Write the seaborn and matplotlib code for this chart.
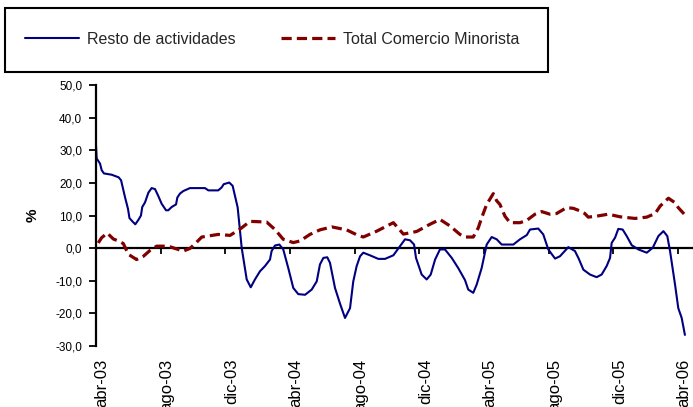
import matplotlib
matplotlib.use("Agg")
import matplotlib.pyplot as plt
import seaborn as sns
import pandas as pd
from matplotlib.patches import Rectangle
from matplotlib.transforms import ScaledTranslation

# Months elapsed since April 2003 and year-on-year change (%)
resto_mes = [0.00, 0.04, 0.25, 0.35, 0.49, 0.97, 1.40, 1.55, 1.80, 1.98, 2.07, 2.27, 2.43,
             2.64, 2.78, 2.86, 3.03, 3.24, 3.44, 3.65, 3.85, 4.06, 4.33, 4.47, 4.68, 4.95,
             5.03, 5.19, 5.40, 5.81, 6.74, 6.95, 7.56, 7.77, 7.90, 8.24, 8.45, 8.62, 8.76,
             9.01, 9.32, 9.57, 9.83, 10.14, 10.45, 10.76, 10.86, 11.07, 11.34, 11.58, 11.89,
             12.20, 12.51, 12.93, 13.34, 13.65, 13.85, 14.06, 14.30, 14.47, 14.78, 15.09,
             15.40, 15.71, 15.91, 16.12, 16.33, 16.53, 16.94, 17.46, 17.87, 18.39, 18.80,
             19.11, 19.42, 19.67, 19.79, 20.00, 20.14, 20.45, 20.70, 20.97, 21.27, 21.58,
             22.00, 22.40, 22.82, 23.02, 23.33, 23.54, 23.85, 24.16, 24.47, 24.78, 25.09,
             25.81, 26.22, 26.64, 26.84, 27.35, 27.66, 27.97, 28.39, 28.69, 29.21, 29.62,
             29.85, 30.14, 30.55, 30.96, 31.27, 31.58, 31.79, 31.89, 32.10, 32.30, 32.57,
             32.82, 33.13, 33.54, 34.06, 34.43, 34.78, 35.09, 35.33, 35.50, 35.81, 36.01,
             36.22, 36.42]
resto_valor = [31.5, 27.5, 25.9, 23.9, 22.9, 22.5, 21.7, 20.8, 15.5, 12.0, 9.2, 8.1, 7.3,
               8.8, 10.0, 12.6, 14.0, 17.0, 18.4, 18.1, 16.0, 13.6, 11.6, 11.6, 12.6, 13.4,
               15.5, 16.7, 17.5, 18.4, 18.4, 17.7, 17.7, 18.6, 19.6, 20.1, 19.1, 15.5, 12.5,
               0.1, -9.6, -12.0, -9.6, -7.1, -5.5, -3.5, -0.9, 0.8, 1.1, -0.4, -6.1,
               -12.2, -14.1, -14.3, -12.7, -10.2, -5.0, -3.0, -2.8, -4.5, -12.2, -17.0,
               -21.4, -18.4, -10.2, -5.5, -2.5, -1.4, -2.2, -3.3, -3.3, -2.2, 0.6,
               2.7, 2.4, 1.1, -3.0, -6.1, -8.1, -9.6, -8.1, -3.5, -0.4, -0.4,
               -3.0, -6.1, -9.8, -12.7, -13.7, -11.2, -6.1, 1.1, 3.4, 2.7, 1.1,
               1.1, 2.7, 4.0, 5.7, 6.0, 4.2, -0.4, -3.2, -2.5, 0.3, -0.9,
               -3.2, -6.6, -8.1, -8.9, -8.1, -5.5, -3.0, 1.6, 3.2, 5.9, 5.7,
               3.7, 0.9, -0.4, -1.4, 0.1, 3.7, 5.2, 3.7, -0.9, -11.2, -18.4,
               -21.4, -26.6]

comercio_mes = [0.14, 0.35, 0.70, 1.07, 1.38, 1.69, 2.00, 2.51, 2.93, 3.34, 3.75, 4.47,
                4.89, 5.40, 5.81, 6.12, 6.54, 7.56, 8.29, 8.70, 8.90, 9.52, 10.55, 11.07,
                11.58, 12.20, 12.62, 13.23, 13.85, 14.58, 15.50, 16.12, 16.53, 17.36,
                18.39, 19.01, 19.83, 20.65, 21.27, 21.89, 22.51, 22.82, 23.33, 23.64,
                23.85, 24.16, 24.57, 24.78, 24.98, 25.29, 25.60, 26.22, 26.64, 27.15,
                27.56, 28.07, 28.48, 29.10, 29.52, 29.93, 30.23, 30.44, 30.96, 31.68,
                32.41, 33.33, 34.06, 34.58, 34.89, 35.40, 35.81, 36.01, 36.42]
comercio_valor = [1.6, 3.2, 4.6, 2.8, 2.2, 1.4, -1.9, -3.5, -2.5, -0.7, 0.6, 0.6,
                  -0.1, -0.9, -0.1, 1.3, 3.4, 4.2, 3.9, 5.2, 5.8, 8.2, 8.0, 5.7,
                  2.7, 1.7, 2.2, 4.2, 5.6, 6.5, 5.6, 4.1, 3.4, 5.2,
                  7.8, 4.3, 5.1, 7.3, 8.8, 6.8, 4.2, 3.4, 3.4, 6.2,
                  9.3, 13.4, 16.7, 14.5, 13.4, 9.8, 7.8, 7.8, 8.5, 10.4,
                  11.2, 10.4, 10.6, 12.4, 12.2, 11.4, 10.6, 9.5, 9.8, 10.4,
                  9.6, 9.1, 9.5, 10.6, 12.9, 15.3, 13.9, 12.4, 10.2]

tick_mes = [0, 4, 8, 12, 16, 20, 24, 28, 32, 36]
tick_etiquetas = ["abr-03", "ago-03", "dic-03", "abr-04", "ago-04",
                  "dic-04", "abr-05", "ago-05", "dic-05", "abr-06"]
y_ticks = [-30, -20, -10, 0, 10, 20, 30, 40, 50]

resto = pd.DataFrame({"mes": resto_mes, "valor": resto_valor})
comercio = pd.DataFrame({"mes": comercio_mes, "valor": comercio_valor})

sns.set_theme(style="white")
plt.rcParams["font.family"] = ["Liberation Sans", "DejaVu Sans"]

W, H = 693, 407
fig = plt.figure(figsize=(W / 100, H / 100), dpi=100)
ax = fig.add_axes([96 / W, 1 - 346 / H, 1 - 96 / W, (346 - 85) / H])

azul = "#000080"
granate = "#800000"

sns.lineplot(data=resto, x="mes", y="valor", ax=ax, color=azul, linewidth=1.5,
             label="Resto de actividades", legend=False)
sns.lineplot(data=comercio, x="mes", y="valor", ax=ax, color=granate, linewidth=2.3,
             label="Total Comercio Minorista", legend=False)
ax.lines[-1].set_dashes((3.2, 1.6))

ax.set_xlim(0, 36.92)
ax.set_ylim(-30, 50)

# Y axis: values with comma decimal separator
ax.set_yticks(y_ticks)
ax.set_yticklabels([f"{v:.1f}".replace(".", ",") for v in y_ticks])
ax.tick_params(axis="y", direction="out", length=5, width=1.3, color="black",
               labelsize=8.5, pad=5, labelcolor="black", left=True)
ax.set_ylabel("%", fontsize=11, fontweight="bold", labelpad=11, color="black")

# Month labels sit under the plot area
ax.set_xticks(tick_mes)
ax.set_xticklabels(tick_etiquetas, rotation=90, va="top", ha="center")
ax.tick_params(axis="x", length=0, labelsize=12, pad=9, labelcolor="black")
shift = ScaledTranslation(6 / 100, 0, fig.dpi_scale_trans)
for lbl in ax.get_xticklabels():
    lbl.set_transform(lbl.get_transform() + shift)
ax.set_xlabel("")

for side in ("top", "right", "bottom"):
    ax.spines[side].set_visible(False)
ax.spines["left"].set_color("black")
ax.spines["left"].set_linewidth(1.6)

# Category axis crossing at zero, with its own tick marks
eje0 = ax.secondary_xaxis(30 / 80)
eje0.xaxis.set_ticks_position("bottom")
eje0.set_xticks(tick_mes)
eje0.tick_params(axis="x", direction="out", length=4, width=1.3, color="black",
                 labelbottom=False, labeltop=False)
for side in ("top", "left", "right"):
    eje0.spines[side].set_visible(False)
eje0.spines["bottom"].set_visible(True)
eje0.spines["bottom"].set_color("black")
eje0.spines["bottom"].set_linewidth(1.6)

# Legend in a framed box above the plot
handles, labels = ax.get_legend_handles_labels()
fig.legend(handles, labels, loc="center left", bbox_to_anchor=(25 / W, 1 - 39 / H),
           ncol=2, frameon=False, fontsize=11.5, handlelength=3.4, handletextpad=0.5,
           columnspacing=2.8, borderaxespad=0, borderpad=0)
fig.patches.append(Rectangle((5 / W, 1 - 72 / H), 543 / W, 64 / H,
                             transform=fig.transFigure, fill=False,
                             edgecolor="black", linewidth=1.5))

fig.savefig("out.png", dpi=100)
